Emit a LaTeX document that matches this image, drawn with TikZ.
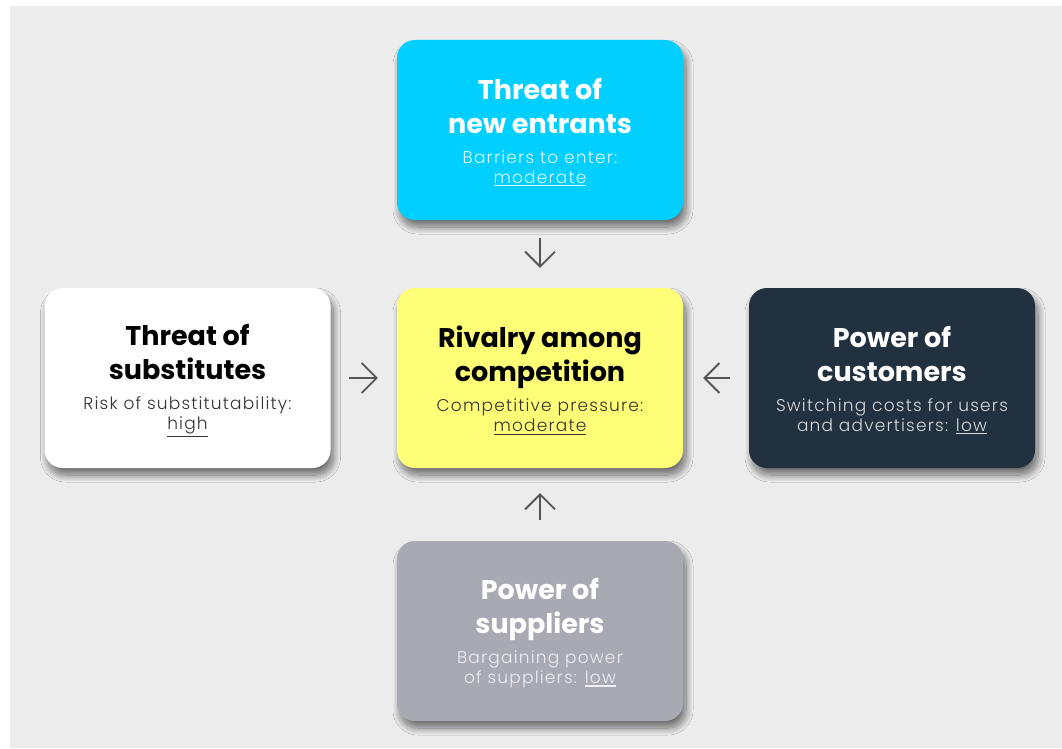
\documentclass[tikz,border=0pt]{standalone}
\usepackage{fontspec}
\setmainfont{Poppins}
\newfontfamily\titlefont{Poppins Bold}
\newfontfamily\subfont{Poppins Light}[LetterSpace=7]
\usetikzlibrary{arrows.meta,shadows.blur}

\definecolor{pagebg}{HTML}{ECECEC}
\definecolor{cyanbox}{HTML}{00CFFF}
\definecolor{yellowbox}{HTML}{FFFF77}
\definecolor{darkbox}{HTML}{21313F}
\definecolor{greybox}{HTML}{A9A9B3}
\definecolor{arrowgrey}{HTML}{555555}

% underlined keyword with a thin rule just below the descenders
\newcommand\keyword[1]{\leavevmode\setbox0\hbox{#1}\rlap{\rule[\dimexpr-\dp0-2.5pt\relax]{\wd0}{1.1pt}}\box0}

% two-line title followed by a two-line remark
\newcommand\cardtext[3]{\parbox{280pt}{\centering\parskip=0pt
  \vspace*{5pt}
  {\titlefont\fontsize{27}{34}\selectfont #1\par}
  \vspace{10pt}
  {\color{#3}\subfont\fontsize{17}{20}\selectfont #2\par}}}

\tikzset{
  card/.style={rounded corners=18pt, minimum width=286pt, minimum height=180pt,
    inner sep=0pt, align=center,
    blur shadow={shadow xshift=3pt, shadow yshift=-7pt,
      shadow blur radius=7pt, shadow blur steps=24, shadow opacity=55}},
  force/.style={draw=arrowgrey, line width=1.8pt,
    -{Straight Barb[length=15pt, width=30pt, line width=1.8pt]}}
}

\begin{document}
\begin{tikzpicture}[x=1pt, y=-1pt]
  \useasboundingbox (0,0) rectangle (1062,749);
  \fill[pagebg] (10,6) rectangle (1062,748);

  \node[card, fill=cyanbox, text=white] (entrants) at (540,130)
    {\cardtext{Threat of\\new entrants}{Barriers to enter:\\\keyword{moderate}}{white!88!cyanbox}};
  \node[card, fill=white, text=black] (substitutes) at (187.5,378)
    {\cardtext{Threat of\\substitutes}{Risk of substitutability:\\\keyword{high}}{black!80}};
  \node[card, fill=yellowbox, text=black] (rivalry) at (540,378)
    {\cardtext{Rivalry among\\competition}{Competitive pressure:\\\keyword{moderate}}{black!80}};
  \node[card, fill=darkbox, text=white] (customers) at (892,378)
    {\cardtext{Power of\\customers}{Switching costs for users\\and advertisers: \keyword{low}}{white!82!darkbox}};
  \node[card, fill=greybox, text=white] (suppliers) at (540,631)
    {\cardtext{Power of\\suppliers}{Bargaining power\\of suppliers: \keyword{low}}{white!82!greybox}};

  \draw[force, shorten <=18pt, shorten >=20pt] (entrants.south) -- (rivalry.north);
  \draw[force, shorten <=18pt, shorten >=19pt] (substitutes.east) -- (rivalry.west);
  \draw[force, shorten <=19pt, shorten >=20pt] (customers.west) -- (rivalry.east);
  \draw[force, shorten <=21pt, shorten >=25pt] (suppliers.north) -- (rivalry.south);
\end{tikzpicture}
\end{document}
